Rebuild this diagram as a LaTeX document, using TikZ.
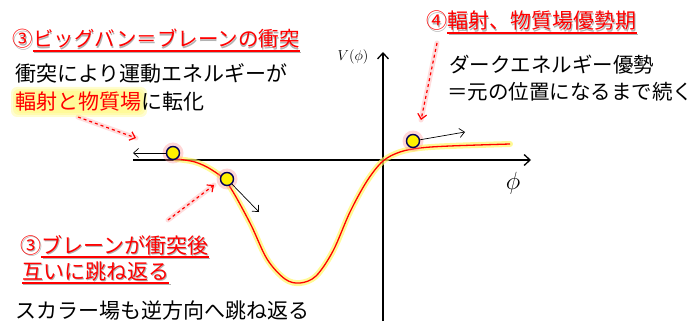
\documentclass[tikz,border=0pt]{standalone}
\usepackage{fontspec}
\setmainfont{Noto Sans CJK JP}
\usetikzlibrary{arrows.meta,calc}
\begin{document}
\begin{tikzpicture}[x=1pt,y=-1pt,
  txt/.style={anchor=base west, inner sep=0pt, font=\fontsize{21pt}{25pt}\selectfont},
  redtxt/.style={txt, text=red},
  shtxt/.style={txt, text=black!30},
  ballstyle/.style={circle, fill=yellow, draw=blue!35!black, line width=1.4pt, minimum size=13pt, inner sep=0pt},
  ballglow/.style={circle, fill=red!45, opacity=0.35, minimum size=21pt, inner sep=0pt},
  movearrow/.style={-{Straight Barb[length=5pt,width=9pt]}, line width=0.7pt},
  axisline/.style={line width=1.3pt, -{Straight Barb[length=6pt,width=11pt]}},
  hintarrow/.style={red, dashed, line width=1.2pt, -{Straight Barb[length=5pt,width=9pt]}},
  hintglow/.style={red!30, line width=5pt, opacity=0.45, line cap=round},
  uline/.style={red, line width=1.2pt},
  ushadow/.style={black!30, line width=1.2pt},
  txtglow/.style={fill=yellow!55, opacity=0.35, rounded corners=6pt}
]
\useasboundingbox (0,0) rectangle (698,323);

% axes
\coordinate (xs) at (133,160);
\coordinate (xe) at (531,160);
\coordinate (ys) at (383,321);
\coordinate (ye) at (383,52);
\draw[axisline] (xs) -- (xe);
\draw[axisline] (ys) -- (ye);
\node[inner sep=0pt, font=\fontsize{14pt}{16pt}\selectfont] (vlabel) at (353,57) {$V(\phi)$};
\node[inner sep=0pt, font=\fontsize{24pt}{26pt}\selectfont] (philabel) at (513,183) {$\phi$};

% potential curve
\def\curvepts{(176,159) (195,162) (212,170) (228,184) (250,223) (267,259) (285,279) (300,283) (316,276) (333,251) (350,212) (367,181) (383,161) (400,152) (420,148) (450,146) (510,144)}
\draw[yellow!60, line width=6pt, opacity=0.7, line cap=round] plot[smooth, tension=0.55] coordinates {\curvepts};
\draw[red, line width=1.3pt] plot[smooth, tension=0.55] coordinates {\curvepts};

% balls
\node[ballglow] (g1) at (173,153) {};
\node[ballglow] (g2) at (227,179) {};
\node[ballglow] (g3) at (413,141) {};
\node[ballstyle] (b1) at (173,153) {};
\node[ballstyle] (b2) at (227,179) {};
\node[ballstyle] (b3) at (413,141) {};
\coordinate (b1end) at (133,153);
\coordinate (b2end) at (259,212);
\coordinate (b3end) at (465,132);
\draw[movearrow] (b1) -- (b1end);
\draw[movearrow] (b2) -- (b2end);
\draw[movearrow] (b3) -- (b3end);

% red dashed hint arrows
\coordinate (h1s) at (78,117);
\coordinate (h1e) at (136,138);
\coordinate (h2s) at (168,220);
\coordinate (h2e) at (214,185);
\coordinate (h3s) at (437,43);
\coordinate (h3e) at (421,120);
\draw[hintglow] (h1s) -- (h1e);
\draw[hintglow] (h2s) -- (h2e);
\draw[hintglow] (h3s) -- (h3e);
\draw[hintarrow] (h1s) -- (h1e);
\draw[hintarrow] (h2s) -- (h2e);
\draw[hintarrow] (h3s) -- (h3e);

% title 1 (upper left)
\node[shtxt, font=\fontsize{20.5pt}{24pt}\selectfont] (t1sh) at (13.2,48.2) {③ビッグバン＝ブレーンの衝突};
\node[redtxt, font=\fontsize{20.5pt}{24pt}\selectfont] (t1a) at (12,47) {③};
\node[redtxt, font=\fontsize{20.5pt}{24pt}\selectfont] (t1b) at (t1a.base east) {ビッグバン＝ブレーンの衝突};
\draw[ushadow] ([shift={(1.2pt,-5.2pt)}]t1b.base west) -- ([shift={(1.2pt,-5.2pt)}]t1b.base east);
\draw[uline] ([yshift=-4pt]t1b.base west) -- ([yshift=-4pt]t1b.base east);

\node[txt] (l2) at (15,82) {衝突により運動エネルギーが};
\fill[txtglow] (11,87) rectangle (147,117);
\fill[txtglow] (13,89) rectangle (145,115);
\fill[txtglow] (15,91) rectangle (143,113);
\node[redtxt] (l3a) at (15,110) {輻射と物質場};
\node[txt] (l3b) at (l3a.base east) {に転化};

% title 2 (upper right)
\node[shtxt] (t2sh) at (427.2,30.2) {④輻射、物質場優勢期};
\node[redtxt] (t2a) at (426,29) {④};
\node[redtxt] (t2b) at (t2a.base east) {輻射、物質場優勢期};
\draw[ushadow] ([shift={(1.2pt,-5.2pt)}]t2b.base west) -- ([shift={(1.2pt,-5.2pt)}]t2b.base east);
\draw[uline] ([yshift=-4pt]t2b.base west) -- ([yshift=-4pt]t2b.base east);
\node[txt, font=\fontsize{20.5pt}{24pt}\selectfont] (r2) at (449,73) {ダークエネルギー優勢};
\node[txt, font=\fontsize{20.5pt}{24pt}\selectfont] (r3) at (447,100) {＝元の位置になるまで続く};

% title 3 (lower left)
\node[shtxt] (t3sh) at (21.2,254.2) {③ブレーンが衝突後};
\node[redtxt] (t3a) at (20,253) {③};
\node[redtxt] (t3b) at (t3a.base east) {ブレーンが衝突後};
\draw[ushadow] ([shift={(1.2pt,-5.2pt)}]t3b.base west) -- ([shift={(1.2pt,-5.2pt)}]t3b.base east);
\draw[uline] ([yshift=-4pt]t3b.base west) -- ([yshift=-4pt]t3b.base east);
\node[shtxt] (t4sh) at (23.2,280.2) {互いに跳ね返る};
\node[redtxt] (t4) at (22,279) {互いに跳ね返る};
\draw[ushadow] ([shift={(1.2pt,-5.2pt)}]t4.base west) -- ([shift={(1.2pt,-5.2pt)}]t4.base east);
\draw[uline] ([yshift=-4pt]t4.base west) -- ([yshift=-4pt]t4.base east);

\node[txt] (l5) at (15,318) {スカラー場も逆方向へ跳ね返る};
\end{tikzpicture}
\end{document}
